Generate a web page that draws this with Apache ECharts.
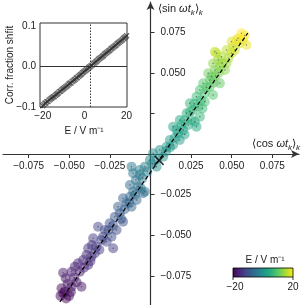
<!DOCTYPE html>
<html><head><meta charset="utf-8">
<script src="https://cdn.jsdelivr.net/npm/echarts@6/dist/echarts.min.js"></script>
<style>html,body{margin:0;padding:0;background:#fff}#c{width:305px;height:305px}</style>
</head><body><div id="c"></div>
<script>
// Main scatter: <cos ωt_k>_k, <sin ωt_k>_k, field E
const mainX = [-0.0554,-0.0548,-0.0528,-0.0538,-0.0501,-0.0486,-0.0425,-0.0538,-0.0522,-0.0486,-0.0466,-0.0446,-0.0435,-0.0415,-0.0384,-0.0394,-0.0363,-0.0384,-0.0333,-0.0343,-0.0353,-0.0302,-0.0230,-0.0240,-0.0323,-0.0281,-0.0292,-0.0251,-0.0209,-0.0220,-0.0189,-0.0169,-0.0200,-0.0169,-0.0148,-0.0117,-0.0127,-0.0086,-0.0107,-0.0046,-0.0035,-0.0127,-0.0076,-0.0107,-0.0066,-0.0117,-0.0066,-0.0035,-0.0004,0.0037,0.0016,0.0057,0.0078,0.0099,0.0139,0.0119,0.0180,0.0170,0.0201,0.0139,0.0232,0.0191,0.0180,0.0211,0.0273,0.0283,0.0222,0.0262,0.0242,0.0293,0.0304,0.0242,0.0283,0.0334,0.0304,0.0334,0.0385,0.0324,0.0365,0.0365,0.0427,0.0355,0.0376,0.0396,0.0385,0.0416,0.0406,0.0396,0.0437,0.0427,0.0458,0.0468,0.0468,0.0499,0.0509,0.0499,0.0550,0.0539,0.0570,0.0591,0.0560,
  -0.0510,-0.0470,-0.0455,-0.0410,-0.0370,-0.0360,-0.0315,-0.0270,-0.0260,-0.0230,-0.0180,-0.0160,-0.0130,-0.0095,-0.0060,-0.0090,-0.0050,-0.0020,0.0010,0.0040,0.0095,0.0120,0.0150,0.0160,0.0210,0.0250,0.0270,0.0310,0.0320,0.0345,0.0390,0.0400,0.0420,0.0440,0.0480,0.0520,0.0530,0.0580,-0.0520,-0.0490];
const mainY = [-0.0874,-0.0827,-0.0848,-0.0858,-0.0874,-0.0817,-0.0817,-0.0731,-0.0765,-0.0725,-0.0694,-0.0673,-0.0725,-0.0653,-0.0683,-0.0622,-0.0632,-0.0581,-0.0571,-0.0611,-0.0519,-0.0530,-0.0581,-0.0509,-0.0448,-0.0468,-0.0509,-0.0427,-0.0468,-0.0386,-0.0365,-0.0417,-0.0325,-0.0273,-0.0304,-0.0325,-0.0263,-0.0283,-0.0232,-0.0242,-0.0232,-0.0191,-0.0201,-0.0119,-0.0129,-0.0078,-0.0099,-0.0078,-0.0037,-0.0078,0.0004,0.0025,-0.0017,0.0045,0.0055,0.0086,0.0086,0.0127,0.0148,0.0168,0.0179,0.0179,0.0209,0.0209,0.0199,0.0168,0.0251,0.0271,0.0312,0.0291,0.0230,0.0260,0.0353,0.0322,0.0394,0.0374,0.0363,0.0435,0.0456,0.0414,0.0435,0.0497,0.0476,0.0517,0.0558,0.0579,0.0620,0.0630,0.0599,0.0538,0.0517,0.0558,0.0640,0.0620,0.0661,0.0692,0.0682,0.0712,0.0702,0.0671,0.0743,
  -0.0800,-0.0760,-0.0790,-0.0700,-0.0660,-0.0560,-0.0590,-0.0540,-0.0470,-0.0440,-0.0400,-0.0340,-0.0300,-0.0250,-0.0210,-0.0160,-0.0150,-0.0110,-0.0060,-0.0030,0.0015,0.0040,0.0100,0.0150,0.0120,0.0210,0.0310,0.0330,0.0280,0.0410,0.0440,0.0480,0.0500,0.0560,0.0590,0.0640,0.0700,0.0730,-0.0890,-0.0850];
const mainE = [-20,-19,-20,-19,-19,-18,-18,-17,-18,-17,-16,-16,-17,-15,-16,-15,-14,-14,-13,-14,-13,-12,-13,-11,-12,-11,-12,-10,-11,-9,-9,-10,-8,-8,-8,-7,-7,-7,-6,-6,-5,-6,-5,-4,-4,-4,-3,-3,-2,-1,-1,0,0,1,1,2,2,3,3,3,4,4,4,5,5,4,5,6,6,7,6,6,7,8,8,8,9,9,10,9,10,11,10,12,13,14,16,16,15,13,13,14,16,17,17,18,18,19,19,19,20,
  -18,-17,-18,-16,-15,-14,-13,-12,-11,-10,-9,-8,-7,-6,-5,-5,-4,-3,-2,-1,0,1,2,3,3,5,6,7,7,9,10,11,12,14,15,17,19,20,-20,-19];
// Fitted line and mean point
const fitX = [-0.0558, 0.0599];
const fitY = [-0.0911, 0.0745];
const meanX = [0.0053];
const meanY = [-0.0039];
// Tick values
const mainXTicks = [-0.075,-0.05,-0.025,0.025,0.05,0.075];
const mainYTicks = [-0.075,-0.05,-0.025,0.025,0.05,0.075];
const mainYLabels = [-0.075,-0.05,-0.025,0.05,0.075];
// Inset: corrected fraction shift vs E
const insetE = [-20,-19.5,-19,-18.5,-18,-17.5,-17,-16.5,-16,-15.5,-15,-14.5,-14,-13.5,-13,-12.5,-12,-11.5,-11,-10.5,-10,-9.5,-9,-8.5,-8,-7.5,-7,-6.5,-6,-5.5,-5,-4.5,-4,-3.5,-3,-2.5,-2,-1.5,-1,-0.5,0,0.5,1,1.5,2,2.5,3,3.5,4,4.5,5,5.5,6,6.5,7,7.5,8,8.5,9,9.5,10,10.5,11,11.5,12,12.5,13,13.5,14,14.5,15,15.5,16,16.5,17,17.5,18,18.5,19,19.5,20];
const insetShift = [-0.097,-0.094,-0.091,-0.090,-0.087,-0.086,-0.083,-0.081,-0.079,-0.077,-0.075,-0.074,-0.071,-0.069,-0.067,-0.065,-0.062,-0.061,-0.058,-0.056,-0.054,-0.052,-0.050,-0.048,-0.046,-0.043,-0.041,-0.040,-0.037,-0.035,-0.033,-0.031,-0.028,-0.027,-0.024,-0.022,-0.020,-0.018,-0.015,-0.013,-0.011,-0.009,-0.007,-0.005,-0.002,0.000,0.002,0.004,0.007,0.009,0.011,0.013,0.015,0.018,0.020,0.022,0.024,0.026,0.028,0.031,0.033,0.035,0.037,0.039,0.041,0.044,0.046,0.048,0.050,0.052,0.054,0.057,0.059,0.061,0.063,0.065,0.067,0.070,0.072,0.074,0.077];
const insetXTicks = [-20,0,20];
const insetYTicks = [-0.1,0,0.1];
const insetZeroE = 2.5;
const cbarLabels = ['\u221220','20'];

const viridis = ['#440154','#482475','#414487','#355f8d','#2a788e','#21918c','#22a884','#44bf70','#7ad151','#bddf26','#fde725'];
const FONT = 'Liberation Sans, Arial, sans-serif';
const ink = '#222';
const minus = s => s.replace('-', '\u2212');

const mainData = mainX.map((x,i)=>[x, mainY[i], mainE[i]]);
const chart = echarts.init(document.getElementById('c'), null, {renderer:'canvas'});

const cbX = 233, cbY = 268, cbW = 60, cbH = 9;
const grad = new echarts.graphic.LinearGradient(0,0,1,0, viridis.map((c,i)=>({offset:i/(viridis.length-1), color:c})));
const XMIN = -0.0908, XMAX = 0.0914, YMIN = -0.0930, YMAX = 0.0936;
const hid = {show:false};
const gb = {outerBoundsMode:'none', containLabel:false};

chart.setOption({
  animation:false,
  grid:[
    Object.assign({left:3, right:6, top:2, bottom:0}, gb),
    Object.assign({left:40, top:23, width:87, height:84, show:true, borderColor:'#333', borderWidth:1, backgroundColor:'#fff', z:5}, gb),
    Object.assign({left:3, right:6, top:2, height:152}, gb),
    Object.assign({left:150.5, right:6, top:2, bottom:0}, gb)
  ],
  xAxis:[
    {gridIndex:0, type:'value', min:XMIN, max:XMAX, show:false},
    {gridIndex:1, type:'value', min:-21.3, max:20.2, splitLine:hid,
     axisLine:{show:false, onZero:false},
     axisTick:{inside:true, length:3, lineStyle:{color:'#333'}, customValues:insetXTicks},
     axisLabel:{customValues:insetXTicks, fontFamily:FONT, fontSize:10, color:ink, margin:4, formatter:v=>minus(String(Math.round(v)))}},
    {gridIndex:2, type:'value', position:'bottom', min:XMIN, max:XMAX, splitLine:hid,
     axisLine:{onZero:false, lineStyle:{color:'#333', width:1.2}, symbol:['none','arrow'], symbolSize:[6,8]},
     axisTick:{length:4, lineStyle:{color:'#333'}, customValues:mainXTicks},
     axisLabel:{customValues:mainXTicks, fontFamily:FONT, fontSize:10, color:ink, margin:7, formatter:v=>minus(v.toFixed(3))}},
    {gridIndex:3, type:'value', min:0, max:1, show:false}
  ],
  yAxis:[
    {gridIndex:0, type:'value', min:YMIN, max:YMAX, show:false},
    {gridIndex:1, type:'value', min:-0.1, max:0.1086, splitLine:hid,
     axisLine:{show:false, onZero:false},
     axisTick:{inside:true, length:3, lineStyle:{color:'#333'}, customValues:insetYTicks},
     axisLabel:{customValues:insetYTicks, fontFamily:FONT, fontSize:10, color:ink, margin:4, formatter:v=>minus(v.toFixed(1))}},
    {gridIndex:2, type:'value', min:0, max:1, show:false},
    {gridIndex:3, type:'value', position:'left', min:YMIN, max:YMAX, splitLine:hid,
     axisLine:{onZero:false, lineStyle:{color:'#333', width:1.2}, symbol:['none','arrow'], symbolSize:[6,8]},
     axisTick:{inside:true, length:4, lineStyle:{color:'#333'}, customValues:mainYTicks},
     axisLabel:{inside:true, customValues:mainYLabels, fontFamily:FONT, fontSize:10, color:ink, margin:10, formatter:v=>minus(v.toFixed(3))}}
  ],
  visualMap:{show:false, type:'continuous', min:-20, max:20, dimension:2, seriesIndex:0, inRange:{color:viridis}},
  series:[
    {type:'scatter', xAxisIndex:0, yAxisIndex:0, data:mainData, symbolSize:10, itemStyle:{opacity:0.5}, silent:true, z:2},
    {type:'scatter', xAxisIndex:0, yAxisIndex:0, data:mainData.map(d=>[d[0],d[1]]), symbolSize:1.5, itemStyle:{color:'#222', opacity:0.5}, silent:true, z:3},
    {type:'line', xAxisIndex:0, yAxisIndex:0, data:fitX.map((x,i)=>[x,fitY[i]]), showSymbol:false, lineStyle:{color:'#000', width:1.2, type:[4,2.5]}, silent:true, z:4},
    {type:'scatter', xAxisIndex:0, yAxisIndex:0, data:meanX.map((x,i)=>[x,meanY[i]]), symbol:'path://M0,0L10,10M10,0L0,10', symbolSize:9,
     itemStyle:{color:'none', borderColor:'#000', borderWidth:1.6}, silent:true, z:5},
    {type:'scatter', xAxisIndex:1, yAxisIndex:1, data:insetE.map((e,i)=>[e,insetShift[i]]), symbol:'path://M0,0L10,10M10,0L0,10', symbolSize:5,
     itemStyle:{color:'none', borderColor:'#333', borderWidth:1.2, opacity:0.75}, silent:true, z:6,
     markLine:{silent:true, symbol:['none','none'], label:{show:false}, animation:false,
       data:[{yAxis:0, lineStyle:{color:'#333', width:1, type:'solid'}}, {xAxis:insetZeroE, lineStyle:{color:'#333', width:1, type:[1.5,1.5]}}]}}
  ],
  graphic:[
    {type:'text', x:10, y:65, rotation:Math.PI/2, style:{text:'Corr. fraction shfit', font:'10px '+FONT, fill:ink, align:'center', verticalAlign:'middle'}},
    {type:'text', x:84, y:131, style:{text:'E / V m\u207B\u00B9', font:'10px '+FONT, fill:ink, align:'center', verticalAlign:'middle'}},
    {type:'text', x:158, y:3, style:{text:'{a|\u27E8sin }{i|\u03C9t}{s|k}{a|\u27E9}{s|k}', fill:ink, align:'left', verticalAlign:'top',
      rich:{a:{fontFamily:FONT, fontSize:11, lineHeight:13, verticalAlign:'top', fill:ink},
            i:{fontFamily:FONT, fontSize:11, fontStyle:'italic', lineHeight:13, verticalAlign:'top', fill:ink},
            s:{fontFamily:FONT, fontSize:8, fontStyle:'italic', lineHeight:8, padding:[6,0,0,0], verticalAlign:'top', fill:ink}}}},
    {type:'text', x:300, y:138, style:{text:'{a|\u27E8cos }{i|\u03C9t}{s|k}{a|\u27E9}{s|k}', fill:ink, align:'right', verticalAlign:'top',
      rich:{a:{fontFamily:FONT, fontSize:11, lineHeight:13, verticalAlign:'top', fill:ink},
            i:{fontFamily:FONT, fontSize:11, fontStyle:'italic', lineHeight:13, verticalAlign:'top', fill:ink},
            s:{fontFamily:FONT, fontSize:8, fontStyle:'italic', lineHeight:8, padding:[6,0,0,0], verticalAlign:'top', fill:ink}}}},
    {type:'rect', shape:{x:cbX, y:cbY, width:cbW, height:cbH}, style:{fill:grad, stroke:'#000', lineWidth:0.8}, z:10},
    {type:'line', shape:{x1:cbX, y1:cbY+cbH, x2:cbX, y2:cbY+cbH+3}, style:{stroke:'#000', lineWidth:0.8}, z:10},
    {type:'line', shape:{x1:cbX+cbW, y1:cbY+cbH, x2:cbX+cbW, y2:cbY+cbH+3}, style:{stroke:'#000', lineWidth:0.8}, z:10},
    {type:'text', x:cbX+2, y:287, style:{text:cbarLabels[0], font:'10px '+FONT, fill:ink, align:'center', verticalAlign:'middle'}, z:10},
    {type:'text', x:cbX+cbW, y:287, style:{text:cbarLabels[1], font:'10px '+FONT, fill:ink, align:'center', verticalAlign:'middle'}, z:10},
    {type:'text', x:265, y:260, style:{text:'E / V m\u207B\u00B9', font:'10px '+FONT, fill:ink, align:'center', verticalAlign:'middle'}, z:10}
  ]
});
</script></body></html>
